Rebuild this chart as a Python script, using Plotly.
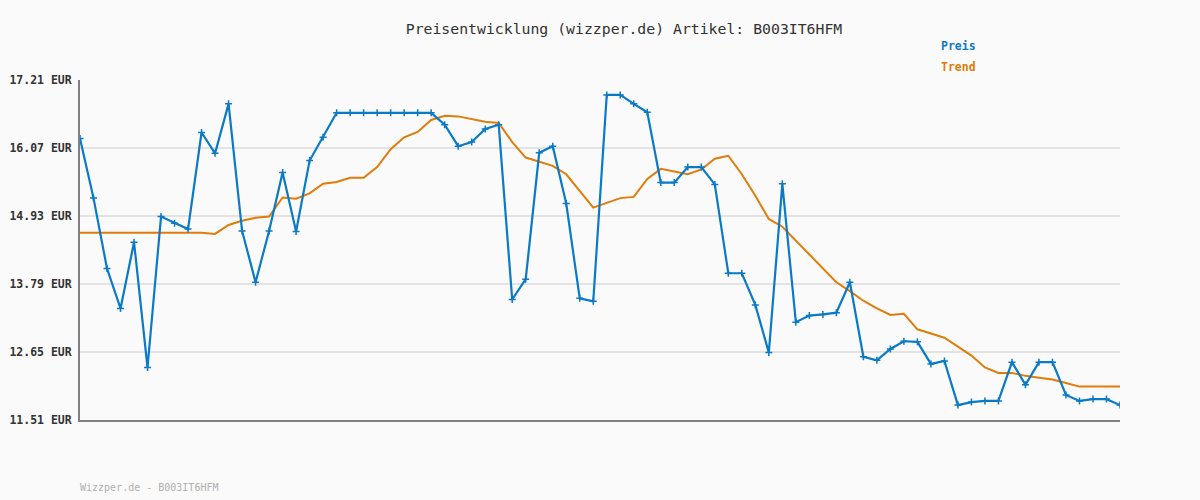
import plotly.graph_objects as go

preis = [16.23, 15.23, 14.05, 13.38, 14.49, 12.39, 14.92, 14.81, 14.71, 16.33,
         15.98, 16.81, 14.68, 13.82, 14.68, 15.66, 14.67, 15.86, 16.25, 16.66,
         16.66, 16.66, 16.66, 16.66, 16.66, 16.66, 16.66, 16.46, 16.10, 16.17,
         16.39, 16.46, 13.53, 13.87, 15.99, 16.10, 15.14, 13.55, 13.50, 16.96,
         16.96, 16.81, 16.67, 15.49, 15.49, 15.75, 15.75, 15.46, 13.97, 13.97,
         13.44, 12.64, 15.47, 13.15, 13.26, 13.28, 13.31, 13.82, 12.57, 12.51,
         12.70, 12.83, 12.82, 12.45, 12.50, 11.76, 11.81, 11.83, 11.83, 12.48,
         12.10, 12.48, 12.48, 11.93, 11.83, 11.86, 11.86, 11.76]

trend = [14.65, 14.65, 14.65, 14.65, 14.65, 14.65, 14.65, 14.65, 14.65, 14.65,
         14.63, 14.78, 14.85, 14.90, 14.92, 15.24, 15.22, 15.31, 15.47, 15.50,
         15.57, 15.57, 15.75, 16.05, 16.25, 16.34, 16.54, 16.61, 16.60, 16.55,
         16.51, 16.49, 16.17, 15.91, 15.84, 15.77, 15.63, 15.35, 15.07, 15.15,
         15.23, 15.25, 15.55, 15.72, 15.67, 15.63, 15.71, 15.89, 15.94, 15.63,
         15.27, 14.88, 14.75, 14.52, 14.29, 14.05, 13.82, 13.67, 13.51, 13.38,
         13.27, 13.29, 13.03, 12.96, 12.89, 12.74, 12.59, 12.39, 12.30, 12.30,
         12.25, 12.22, 12.19, 12.13, 12.07, 12.07, 12.07, 12.07]

y_ticks = [11.51, 12.65, 13.79, 14.93, 16.07, 17.21]
tick_labels = [f"{v:.2f} EUR" for v in y_ticks]

title_text = "Preisentwicklung (wizzper.de) Artikel: B003IT6HFM"
footer_text = "Wizzper.de - B003IT6HFM"

BLUE = "#0a7ac6"
ORANGE = "#e07c0a"
MONO = "DejaVu Sans Mono, Liberation Mono, monospace"

x = list(range(len(preis)))

fig = go.Figure()
fig.add_trace(go.Scatter(
    x=x, y=trend, mode="lines", name="Trend",
    line=dict(color=ORANGE, width=2), hoverinfo="skip"))
fig.add_trace(go.Scatter(
    x=x, y=preis, mode="lines+markers", name="Preis",
    line=dict(color=BLUE, width=2.2),
    marker=dict(symbol="cross-thin", size=5, color=BLUE,
                line=dict(color=BLUE, width=1.5))))

fig.update_layout(
    width=1200, height=500,
    margin=dict(l=80, r=80, t=80, b=80, autoexpand=False),
    paper_bgcolor="#fafafa", plot_bgcolor="#fafafa",
    showlegend=False,
    font=dict(family=MONO, color="#333333"),
    title=dict(text=title_text, x=624 / 1200, xanchor="center",
               y=1 - 29 / 500, yanchor="middle",
               font=dict(family=MONO, size=14.8, color="#333333")),
    xaxis=dict(range=[0, len(preis) - 1], showgrid=False, zeroline=False,
               showticklabels=False, ticks="", showline=True,
               linecolor="#808080", linewidth=2, fixedrange=True,
               automargin=False),
    yaxis=dict(range=[y_ticks[0], y_ticks[-1]], tickvals=y_ticks,
               ticktext=tick_labels, showgrid=True, gridcolor="#e3e3e3",
               gridwidth=2, zeroline=False, showline=True,
               linecolor="#808080", linewidth=2, ticks="", ticklen=0,
               ticklabelstandoff=4, automargin=False,
               tickfont=dict(family=MONO, size=11.5, color="#333333",
                             weight="bold"),
               fixedrange=True),
    annotations=[
        dict(text="<b>Preis</b>", x=(939 - 80) / 1040, y=(420 - 46) / 340,
             xref="paper", yref="paper", xanchor="left", yanchor="middle",
             showarrow=False, font=dict(family=MONO, size=11.5, color=BLUE)),
        dict(text="<b>Trend</b>", x=(939 - 80) / 1040, y=(420 - 67) / 340,
             xref="paper", yref="paper", xanchor="left", yanchor="middle",
             showarrow=False, font=dict(family=MONO, size=11.5, color=ORANGE)),
        dict(text=footer_text, x=-2 / 1040, y=(420 - 487) / 340,
             xref="paper", yref="paper", xanchor="left", yanchor="middle",
             showarrow=False, font=dict(family=MONO, size=10, color="#b0b0b0")),
    ],
)

fig.write_html(
    "out.html",
    config={"displayModeBar": False},
    post_script="document.body.style.margin='0';"
                "document.body.style.background='#fafafa';",
)
